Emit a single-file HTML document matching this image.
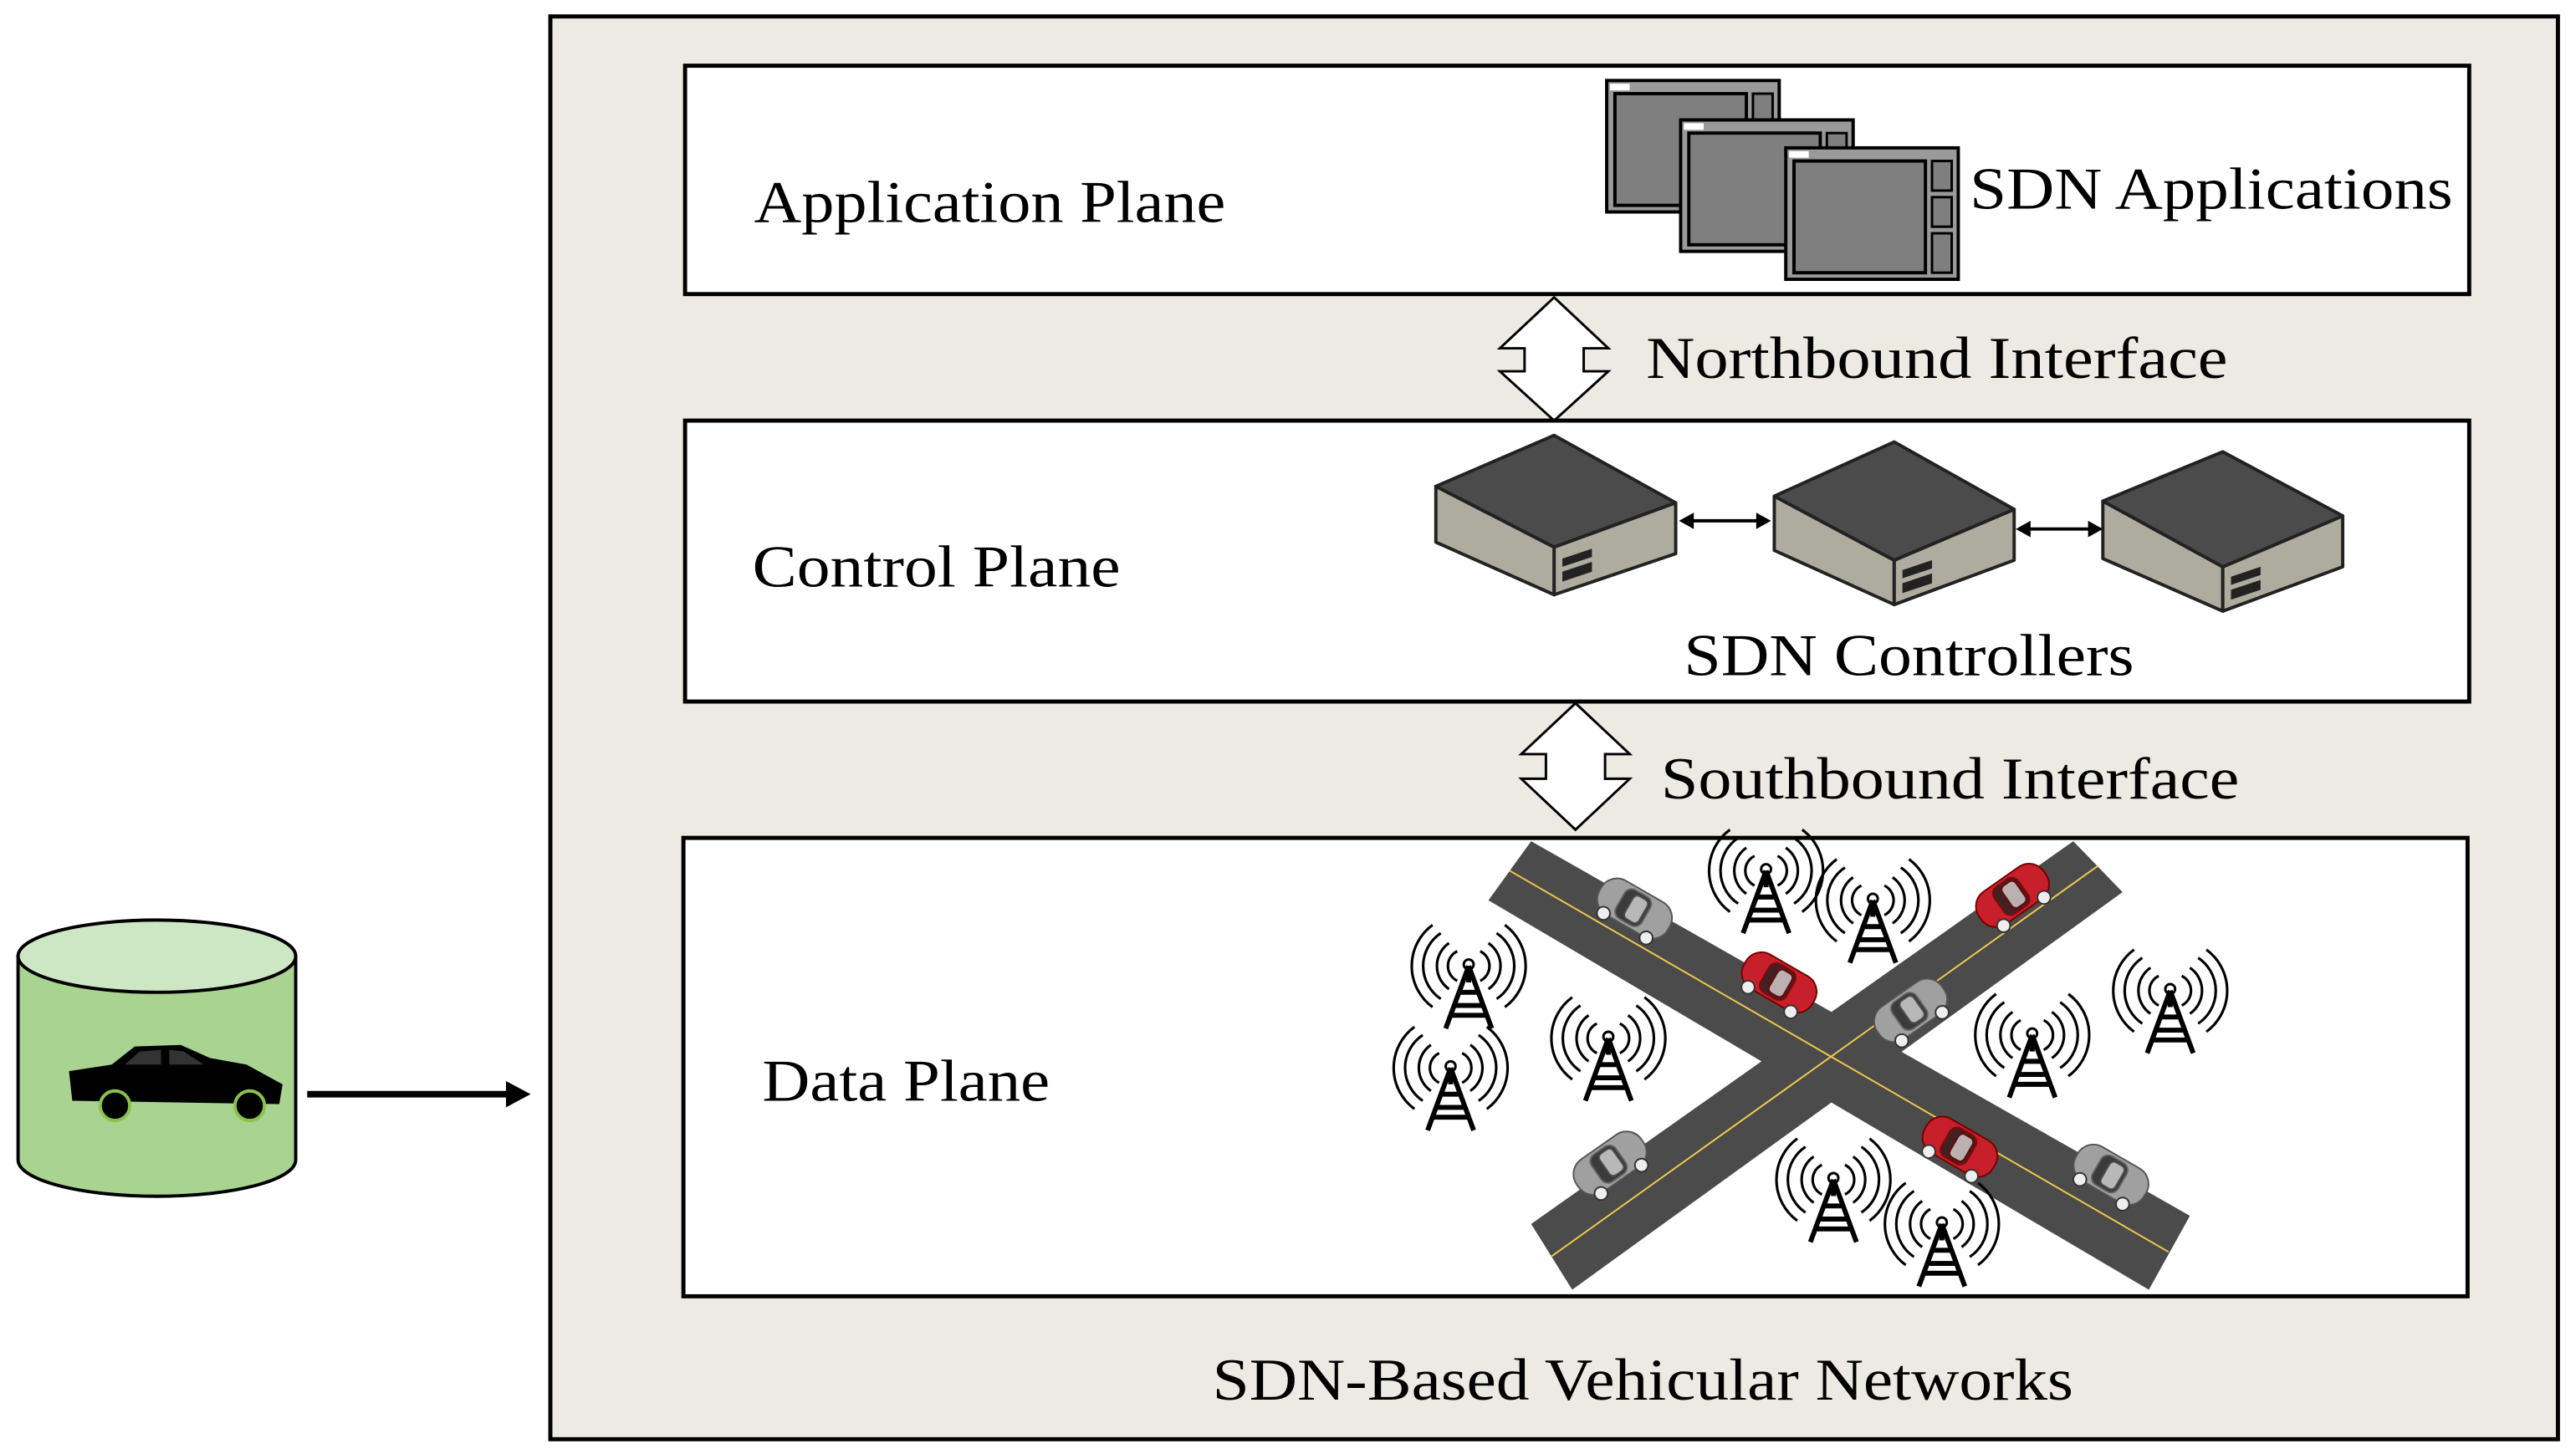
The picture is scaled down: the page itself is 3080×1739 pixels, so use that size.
<!DOCTYPE html>
<html><head><meta charset="utf-8"><style>
html,body{margin:0;padding:0;background:#fff}
svg{display:block}
text{font-family:"Liberation Serif",serif;fill:#000}
</style></head><body>
<svg width="3080" height="1739" viewBox="0 0 1568 885" preserveAspectRatio="none" xmlns="http://www.w3.org/2000/svg">
<defs>
<g id="tower">
 <path d="M0,0 L-14,38 M0,0 L14,38 M-9,24 L9,24 M-11,30 L11,30 M-6,16 L6,16 M0,0 L0,10" stroke="#000" stroke-width="3" fill="none"/>
 <circle cx="0" cy="-1" r="3" fill="none" stroke="#000" stroke-width="1.5"/>
 <g fill="none" stroke="#000" stroke-width="1.6">
  <path d="M-7,-9 A10,10 0 0 0 -7,9 M7,-9 A10,10 0 0 1 7,9"/>
  <path d="M-12,-14 A17,17 0 0 0 -12,14 M12,-14 A17,17 0 0 1 12,14"/>
  <path d="M-17,-20 A24,24 0 0 0 -17,20 M17,-20 A24,24 0 0 1 17,20"/>
  <path d="M-22,-25 A31,31 0 0 0 -22,25 M22,-25 A31,31 0 0 1 22,25"/>
 </g>
</g>
<g id="car">
 <rect x="-24" y="-12" width="48" height="24" rx="11" />
 <rect x="-10" y="-10" width="18" height="20" rx="5" fill="#222" opacity="0.8"/>
 <rect x="-4" y="-8" width="10" height="16" rx="3" fill="#eee" opacity="0.7"/>
 <circle cx="-15" cy="12" r="4" fill="#eee" stroke="#333"/>
 <circle cx="15" cy="12" r="4" fill="#eee" stroke="#333"/>
</g>
<g id="win">
 <rect x="0" y="0" width="105" height="80" fill="#9a9a9a" stroke="#000" stroke-width="2"/>
 <rect x="5" y="8" width="80" height="68" fill="#7f7f7f" stroke="#000" stroke-width="2"/>
 <rect x="89" y="8" width="12" height="18" fill="#7f7f7f" stroke="#000" stroke-width="1.5"/>
 <rect x="89" y="30" width="12" height="18" fill="#7f7f7f" stroke="#000" stroke-width="1.5"/>
 <rect x="89" y="52" width="12" height="24" fill="#7f7f7f" stroke="#000" stroke-width="1.5"/>
 <rect x="2" y="2" width="12" height="4" fill="#fff"/>
</g>
</defs>

<rect x="335" y="10" width="1222" height="866" fill="#ede9e3" stroke="#000" stroke-width="2.5"/>

<rect x="417" y="40" width="1086" height="139" fill="#fff" stroke="#000" stroke-width="2.5"/>
<text x="459" y="135" font-size="36" textLength="287" lengthAdjust="spacingAndGlyphs">Application Plane</text>
<use href="#win" x="978" y="49"/>
<use href="#win" x="1023" y="73"/>
<use href="#win" x="1087" y="90"/>
<text x="1199" y="127" font-size="36" textLength="294" lengthAdjust="spacingAndGlyphs">SDN Applications</text>

<path d="M946,181 L979,212 L964,212 L964,226 L979,226 L946,256 L913,226 L928,226 L928,212 L913,212 Z" fill="#fff" stroke="#000" stroke-width="1.5"/>
<text x="1002" y="230" font-size="36" textLength="354" lengthAdjust="spacingAndGlyphs">Northbound Interface</text>

<rect x="417" y="256" width="1086" height="171" fill="#fff" stroke="#000" stroke-width="2.5"/>
<text x="458" y="357" font-size="36" textLength="224" lengthAdjust="spacingAndGlyphs">Control Plane</text>
<g stroke="#222" stroke-width="2" stroke-linejoin="round">
 <path d="M874,296 L946,333 L946,362 L874,330 Z" fill="#aeab9f"/>
 <path d="M946,333 L1020,306 L1020,337 L946,362 Z" fill="#aeab9f"/>
 <path d="M946,265 L1020,306 L946,333 L874,296 Z" fill="#4b4b4b"/>
 <path d="M1080,302 L1153,341 L1153,368 L1080,335 Z" fill="#aeab9f"/>
 <path d="M1153,341 L1226,310 L1226,341 L1153,368 Z" fill="#aeab9f"/>
 <path d="M1153,269 L1226,310 L1153,341 L1080,302 Z" fill="#4b4b4b"/>
 <path d="M1280,305 L1353,345 L1353,372 L1280,340 Z" fill="#aeab9f"/>
 <path d="M1353,345 L1426,314 L1426,345 L1353,372 Z" fill="#aeab9f"/>
 <path d="M1353,275 L1426,314 L1353,345 L1280,305 Z" fill="#4b4b4b"/>
</g>
<g fill="#222">
 <path d="M951,340 L969,334 L969,339 L951,345 Z M951,348 L969,342 L969,348 L951,354 Z"/>
 <path d="M1158,347 L1176,341 L1176,346 L1158,352 Z M1158,355 L1176,349 L1176,355 L1158,361 Z"/>
 <path d="M1358,351 L1376,345 L1376,350 L1358,356 Z M1358,359 L1376,353 L1376,359 L1358,365 Z"/>
</g>
<g stroke="#000" stroke-width="2">
 <line x1="1028" y1="317" x2="1072" y2="317"/>
 <line x1="1233" y1="322" x2="1274" y2="322"/>
</g>
<g fill="#000">
 <path d="M1022,317 L1031,312 L1031,322 Z M1078,317 L1069,312 L1069,322 Z"/>
 <path d="M1227,322 L1236,317 L1236,327 Z M1280,322 L1271,317 L1271,327 Z"/>
</g>
<text x="1025" y="411" font-size="36" textLength="274" lengthAdjust="spacingAndGlyphs">SDN Controllers</text>

<path d="M959,428 L992,459 L977,459 L977,474 L992,474 L959,505 L926,474 L941,474 L941,459 L926,459 Z" fill="#fff" stroke="#000" stroke-width="1.5"/>
<text x="1011" y="486" font-size="36" textLength="352" lengthAdjust="spacingAndGlyphs">Southbound Interface</text>

<rect x="416" y="510" width="1086" height="279" fill="#fff" stroke="#000" stroke-width="2.5"/>
<text x="464" y="670" font-size="36" textLength="175" lengthAdjust="spacingAndGlyphs">Data Plane</text>
<g>
 <path d="M932,512 L1333,740 L1308,785 L906,548 Z" fill="#4b4b4b"/>
 <path d="M1262,512 L1292,543 L957,785 L932,745 Z" fill="#4b4b4b"/>
 <line x1="919" y1="530" x2="1320" y2="762" stroke="#f2c94c" stroke-width="1"/>
 <line x1="1277" y1="527" x2="944" y2="765" stroke="#f2c94c" stroke-width="1"/>
</g>
<g fill="#a0a0a0" stroke="#555" stroke-width="1">
 <use href="#car" transform="translate(995,553) rotate(30)"/>
 <use href="#car" transform="translate(1163,615) rotate(-35)"/>
 <use href="#car" transform="translate(980,708) rotate(-35)"/>
 <use href="#car" transform="translate(1285,715) rotate(30)"/>
</g>
<g fill="#c8202a" stroke="#700" stroke-width="1">
 <use href="#car" transform="translate(1225,545) rotate(-35)"/>
 <use href="#car" transform="translate(1083,598) rotate(30)"/>
 <use href="#car" transform="translate(1193,698) rotate(30)"/>
</g>
<use href="#tower" x="1075" y="530"/>
<use href="#tower" x="1140" y="548"/>
<use href="#tower" x="894" y="588"/>
<use href="#tower" x="883" y="650"/>
<use href="#tower" x="979" y="632"/>
<use href="#tower" x="1237" y="630"/>
<use href="#tower" x="1321" y="603"/>
<use href="#tower" x="1116" y="718"/>
<use href="#tower" x="1182" y="745"/>

<text x="738" y="852" font-size="36" textLength="524" lengthAdjust="spacingAndGlyphs">SDN-Based Vehicular Networks</text>

<path d="M11,582 L11,706 A84,22 0 0 0 180,706 L180,582 Z" fill="#a8d391" stroke="#000" stroke-width="2"/>
<ellipse cx="95.5" cy="582" rx="84.5" ry="22" fill="#cde6c4" stroke="#000" stroke-width="2"/>
<path d="M42,652 L44,670 L170,672 L172,660 L150,648 L128,644 L110,636 L82,637 L68,648 Z" fill="#000"/>
<path d="M85,640 L98,639 L98,648 L76,648 Z M103,639 L112,640 L124,648 L103,648 Z" fill="#333"/>
<circle cx="70" cy="673" r="9" fill="#000" stroke="#8bc34a" stroke-width="2"/>
<circle cx="152" cy="673" r="9" fill="#000" stroke="#8bc34a" stroke-width="2"/>

<line x1="187" y1="666" x2="312" y2="666" stroke="#000" stroke-width="4"/>
<path d="M323,666 L308,658 L308,674 Z" fill="#000"/>
</svg>
</body></html>
